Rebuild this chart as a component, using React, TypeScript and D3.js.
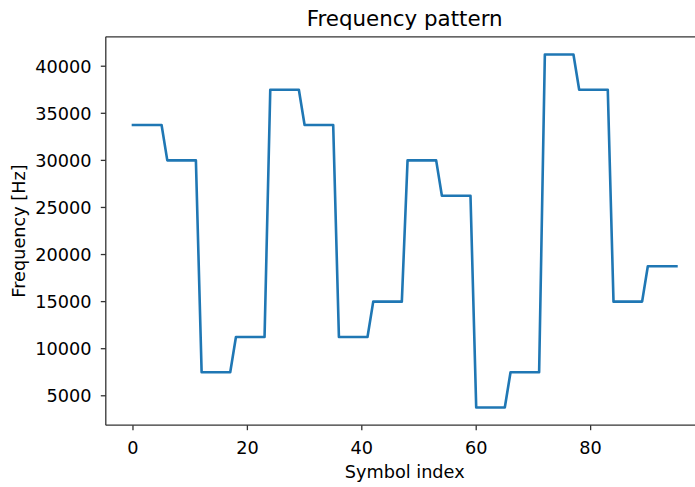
import React from "react";
import * as d3 from "d3";

const symbolLevels: number[] = [9, 8, 2, 3, 10, 9, 3, 4, 8, 7, 1, 2, 11, 10, 4, 5];
const samplesPerSymbol = 6;
const frequencyStep = 3750;
const frequencies: number[] = symbolLevels.flatMap((l) => Array(samplesPerSymbol).fill(l * frequencyStep));
const symbolIndex: number[] = frequencies.map((_, i) => i);
const xTicks: number[] = [0, 20, 40, 60, 80];
const yTicks: number[] = [5000, 10000, 15000, 20000, 25000, 30000, 35000, 40000];

const W = 695;
const H = 487;
const left = 105.8;
const right = 703.6;
const top = 36.8;
const bottom = 425.2;
const font = "DejaVu Sans, sans-serif";
const fs = 17.7;

export default function App() {
  const xMin = d3.min(symbolIndex)!, xMax = d3.max(symbolIndex)!;
  const yMin = d3.min(frequencies)!, yMax = d3.max(frequencies)!;
  const xm = (xMax - xMin) * 0.05, ym = (yMax - yMin) * 0.05;
  const x = d3.scaleLinear().domain([xMin - xm, xMax + xm]).range([left, right]);
  const y = d3.scaleLinear().domain([yMin - ym, yMax + ym]).range([bottom, top]);
  const line = d3.line<number>().x((_, i) => x(symbolIndex[i])).y((d) => y(d));
  const spine = "#333";
  return (
    <svg width={W} height={H} style={{ position: "absolute", left: 0, top: 0, background: "#fff" }} fontFamily={font}>
      <rect x={0} y={0} width={W} height={H} fill="#fff" />
      <path d={line(frequencies)!} fill="none" stroke="#1f77b4" strokeWidth={2.6} strokeLinejoin="round" strokeLinecap="square" />
      <line x1={left} x2={left} y1={top} y2={bottom} stroke={spine} strokeWidth={1.3} />
      <line x1={left} x2={right} y1={bottom} y2={bottom} stroke={spine} strokeWidth={1.3} />
      <line x1={left} x2={right} y1={top} y2={top} stroke={spine} strokeWidth={1.3} />
      <line x1={right} x2={right} y1={top} y2={bottom} stroke={spine} strokeWidth={1.3} />
      {xTicks.map((t) => (
        <g key={t}>
          <line x1={x(t)} x2={x(t)} y1={bottom} y2={bottom + 5} stroke={spine} strokeWidth={1.3} />
          <text x={x(t)} y={453.5} textAnchor="middle" fontSize={fs} fill="#000">{t}</text>
        </g>
      ))}
      {yTicks.map((t) => (
        <g key={t}>
          <line x1={left - 5} x2={left} y1={y(t)} y2={y(t)} stroke={spine} strokeWidth={1.3} />
          <text x={91.5} y={y(t)} dy="0.36em" textAnchor="end" fontSize={fs} fill="#000">{t}</text>
        </g>
      ))}
      <text x={(left + right) / 2} y={26} textAnchor="middle" fontSize={21.4} fill="#000">Frequency pattern</text>
      <text x={(left + right) / 2} y={478} textAnchor="middle" fontSize={fs} fill="#000">Symbol index</text>
      <text transform={`translate(25,${(top + bottom) / 2}) rotate(-90)`} textAnchor="middle" fontSize={fs} fill="#000">Frequency [Hz]</text>
    </svg>
  );
}
